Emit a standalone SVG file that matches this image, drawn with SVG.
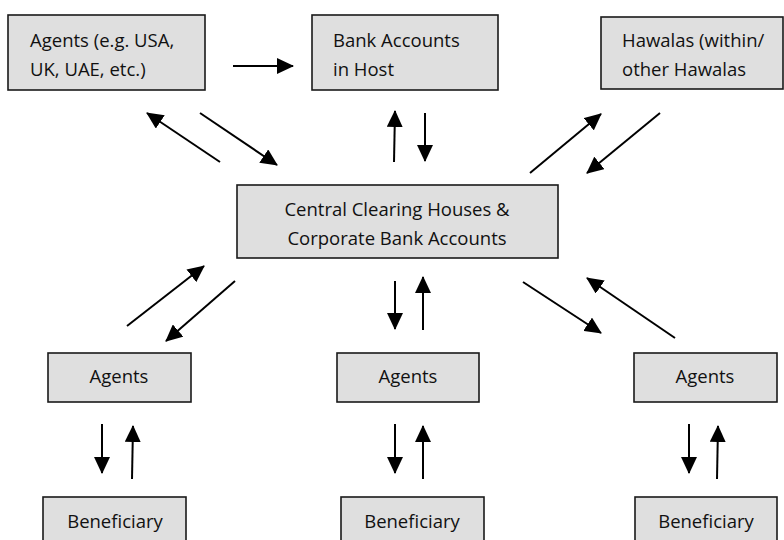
<svg xmlns="http://www.w3.org/2000/svg" width="784" height="540" viewBox="0 0 784 540">
<style>
.box{fill:#dfdfdf;stroke:#1a1a1a;stroke-width:1.6}
.t{font-family:"Open Sans",Lato,sans-serif;font-size:18.5px;fill:#111}
.c{text-anchor:middle}
.ln{stroke:#000;stroke-width:2;fill:none;marker-end:url(#ah)}
</style>
<defs>
<marker id="ah" markerUnits="userSpaceOnUse" markerWidth="17" markerHeight="16" viewBox="0 0 17 16" refX="16" refY="8" orient="auto">
<path d="M0,0 L17,8 L0,16 z" fill="#000"/>
</marker>
</defs>
<rect width="784" height="540" fill="#fff"/>
<g id="agents-top"><rect class="box" x="8" y="15" width="197" height="75"/><text class="t" x="30" y="47">Agents (e.g. USA,</text><text class="t" x="30" y="76">UK, UAE, etc.)</text></g>
<g id="bank-host"><rect class="box" x="312" y="15" width="186" height="75"/><text class="t" x="333" y="47">Bank Accounts</text><text class="t" x="333" y="76">in Host</text></g>
<g id="hawalas"><rect class="box" x="601" y="17" width="182" height="72"/><text class="t" x="622" y="47">Hawalas (within/</text><text class="t" x="622" y="76">other Hawalas</text></g>
<g id="central"><rect class="box" x="237" y="185" width="321" height="73"/><text class="t c" x="397" y="216">Central Clearing Houses &amp;</text><text class="t c" x="397" y="245">Corporate Bank Accounts</text></g>
<g id="agents-left"><rect class="box" x="48" y="353" width="143" height="49"/><text class="t c" x="119" y="383">Agents</text></g>
<g id="agents-mid"><rect class="box" x="337" y="353" width="142" height="49"/><text class="t c" x="408" y="383">Agents</text></g>
<g id="agents-right"><rect class="box" x="634" y="353" width="143" height="49"/><text class="t c" x="705" y="383">Agents</text></g>
<g id="benef-left"><rect class="box" x="43" y="497" width="143" height="50"/><text class="t c" x="115" y="528">Beneficiary</text></g>
<g id="benef-mid"><rect class="box" x="341" y="497" width="143" height="50"/><text class="t c" x="412" y="528">Beneficiary</text></g>
<g id="benef-right"><rect class="box" x="635" y="497" width="142" height="50"/><text class="t c" x="706" y="528">Beneficiary</text></g>
<g id="connectors">
<line class="ln" x1="233" y1="66" x2="293" y2="66"/>
<line class="ln" x1="220" y1="162" x2="147" y2="113"/>
<line class="ln" x1="200" y1="113" x2="277" y2="165"/>
<line class="ln" x1="394" y1="162" x2="395" y2="111"/>
<line class="ln" x1="425" y1="113" x2="425" y2="161"/>
<line class="ln" x1="530" y1="173" x2="601" y2="114"/>
<line class="ln" x1="660" y1="113" x2="587" y2="173"/>
<line class="ln" x1="127" y1="326" x2="204" y2="266"/>
<line class="ln" x1="235" y1="281" x2="166" y2="341"/>
<line class="ln" x1="395" y1="281" x2="395" y2="329"/>
<line class="ln" x1="423" y1="330" x2="423" y2="277"/>
<line class="ln" x1="523" y1="282" x2="601" y2="333"/>
<line class="ln" x1="675" y1="338" x2="587" y2="278"/>
<line class="ln" x1="102" y1="424" x2="102" y2="473"/>
<line class="ln" x1="132" y1="479" x2="133" y2="426"/>
<line class="ln" x1="395" y1="424" x2="395" y2="473"/>
<line class="ln" x1="423" y1="479" x2="423" y2="426"/>
<line class="ln" x1="689" y1="424" x2="689" y2="473"/>
<line class="ln" x1="717" y1="479" x2="718" y2="426"/>
</g>
</svg>
